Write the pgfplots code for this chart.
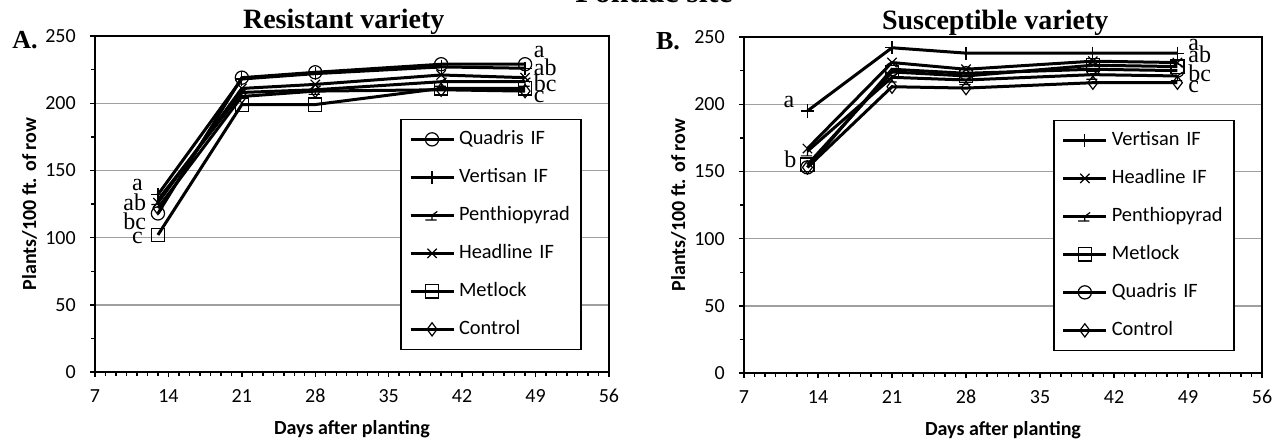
\documentclass[border=0pt]{standalone}
\usepackage{pgfplots}
\pgfplotsset{compat=1.18}
\usepackage{fontspec}
\setmainfont{Liberation Serif}
\newfontfamily\calib{Carlito}

% marker for Penthiopyrad (bar, stem and slanted stroke)
\pgfdeclareplotmark{penth}{%
  \pgfpathmoveto{\pgfqpoint{-\pgfplotmarksize}{-0.7\pgfplotmarksize}}%
  \pgfpathlineto{\pgfqpoint{0.7\pgfplotmarksize}{-0.7\pgfplotmarksize}}%
  \pgfpathmoveto{\pgfqpoint{0pt}{-0.7\pgfplotmarksize}}%
  \pgfpathlineto{\pgfqpoint{0pt}{0pt}}%
  \pgfpathlineto{\pgfqpoint{0.8\pgfplotmarksize}{0.6\pgfplotmarksize}}%
  \pgfusepathqstroke}

\tikzset{lt/.style={font=\fontsize{12}{12}\selectfont, inner sep=0pt}}

\pgfplotsset{
  legend image code/.code={\draw[mark repeat=2, mark phase=2, #1]
    plot coordinates {(0pt,0pt) (10.75pt,0pt) (21.5pt,0pt)};},
  beet/.style={
    scale only axis, height=168pt,
    xmin=7, xmax=56, ymin=0, ymax=250,
    xtick={7,14,...,56}, minor x tick num=6,
    ytick={0,50,...,250}, minor y tick num=1,
    tick align=outside, major tick length=2.6pt, minor tick length=1.8pt,
    xtick pos=bottom, ytick pos=left,
    tick style={black, line width=0.7pt},
    axis line style={line width=0.9pt},
    ymajorgrids, grid style={gray!75, line width=0.7pt},
    /pgf/number format/assume math mode=true,
    ticklabel style={font=\calib\fontsize{10}{12}\selectfont},
    yticklabel style={xshift=-3.5pt},
    xticklabel style={yshift=-2.5pt},
    xlabel={Days after planting}, ylabel={Plants/100 ft. of row},
    label style={font=\calib\bfseries\fontsize{10}{12}\selectfont},
    xlabel style={at={(axis description cs:0.5,0)}, anchor=center, yshift=-28.5pt},
    ylabel style={at={(axis description cs:0,0.5)}, anchor=center, rotate=0, yshift=32.75pt},
    title style={font=\bfseries\fontsize{14}{16}\selectfont, anchor=base, yshift=-2pt},
    legend cell align=left,
    legend style={at={(0.947,0.065)}, anchor=south east, draw=black, line width=0.7pt,
      font=\calib\fontsize{10.2}{12}\selectfont, row sep=5.5pt, inner xsep=4pt, inner ysep=3.3pt,
      nodes={text height=7.5pt, text depth=2pt, text width=55pt}},
    every axis plot/.append style={black, line width=1.5pt, mark size=3.3pt,
      mark options={solid, fill=white, line width=0.6pt}},
    clip=false,
  },
}

\begin{document}
\begin{tikzpicture}
\path[use as bounding box] (-47.5pt,-37pt) rectangle (593pt,186pt);

\node[font=\bfseries\fontsize{16}{18}\selectfont, anchor=base] at (279.5pt,184.7pt) {Pontiac site};

% A. Resistant variety
\begin{axis}[beet, width=257pt, at={(0pt,0pt)}, anchor=south west,
  title={Resistant variety}, title style={at={(axis description cs:0.484,1)}}]
\addplot[mark=o] coordinates {(13,118) (21,219) (28,223) (40,229) (48,229)};
\addlegendentry{Quadris IF}
\addplot[mark=+] coordinates {(13,132) (21,218) (28,222) (40,227) (48,226)};
\addlegendentry{Vertisan IF}
\addplot[mark=penth] coordinates {(13,128) (21,208) (28,210) (40,216) (48,216)};
\addlegendentry{Penthiopyrad}
\addplot[mark=x] coordinates {(13,126) (21,211) (28,214) (40,221) (48,219)};
\addlegendentry{Headline IF}
\addplot[mark=square] coordinates {(13,102) (21,199) (28,199) (40,211) (48,211)};
\addlegendentry{Metlock}
\addplot[mark=diamond] coordinates {(13,122) (21,205) (28,209) (40,210) (48,209)};
\addlegendentry{Control}
\node[lt, anchor=east] at (axis cs:11.6,139) {a};
\node[lt, anchor=east] at (axis cs:11.9,126) {ab};
\node[lt, anchor=east] at (axis cs:11.9,112) {bc};
\node[lt, anchor=east] at (axis cs:11.6,100) {c};
\node[lt, anchor=west] at (axis cs:48.8,238) {a};
\node[lt, anchor=west] at (axis cs:48.8,227) {ab};
\node[lt, anchor=west] at (axis cs:48.8,215) {bc};
\node[lt, anchor=west] at (axis cs:48.8,205) {c};
\node[font=\bfseries\fontsize{13}{13}\selectfont] at (rel axis cs:0,1) [xshift=-35pt, yshift=-2pt] {A.};
\end{axis}

% B. Susceptible variety
\begin{axis}[beet, width=259pt, at={(324.5pt,-0.5pt)}, anchor=south west,
  title={Susceptible variety}, title style={at={(axis description cs:0.485,1)}}]
\addplot[mark=+] coordinates {(13,195) (21,242) (28,238) (40,238) (48,238)};
\addlegendentry{Vertisan IF}
\addplot[mark=x] coordinates {(13,167) (21,231) (28,226) (40,232) (48,231)};
\addlegendentry{Headline IF}
\addplot[mark=penth] coordinates {(13,165) (21,220) (28,218) (40,222) (48,221)};
\addlegendentry{Penthiopyrad}
\addplot[mark=square] coordinates {(13,155) (21,224) (28,221) (40,229) (48,228)};
\addlegendentry{Metlock}
\addplot[mark=o] coordinates {(13,153) (21,226) (28,223) (40,226) (48,225)};
\addlegendentry{Quadris IF}
\addplot[mark=diamond] coordinates {(13,153) (21,213) (28,212) (40,216) (48,216)};
\addlegendentry{Control}
\node[lt, anchor=east] at (axis cs:11.8,202) {a};
\node[lt, anchor=east] at (axis cs:12.0,159) {b};
\node[lt, anchor=west] at (axis cs:49.0,244) {a};
\node[lt, anchor=west] at (axis cs:49.0,237) {ab};
\node[lt, anchor=west] at (axis cs:49.0,223) {bc};
\node[lt, anchor=west] at (axis cs:49.0,213) {c};
\node[font=\bfseries\fontsize{13}{13}\selectfont] at (rel axis cs:0,1) [xshift=-38pt, yshift=-2pt] {B.};
\end{axis}
\end{tikzpicture}
\end{document}
